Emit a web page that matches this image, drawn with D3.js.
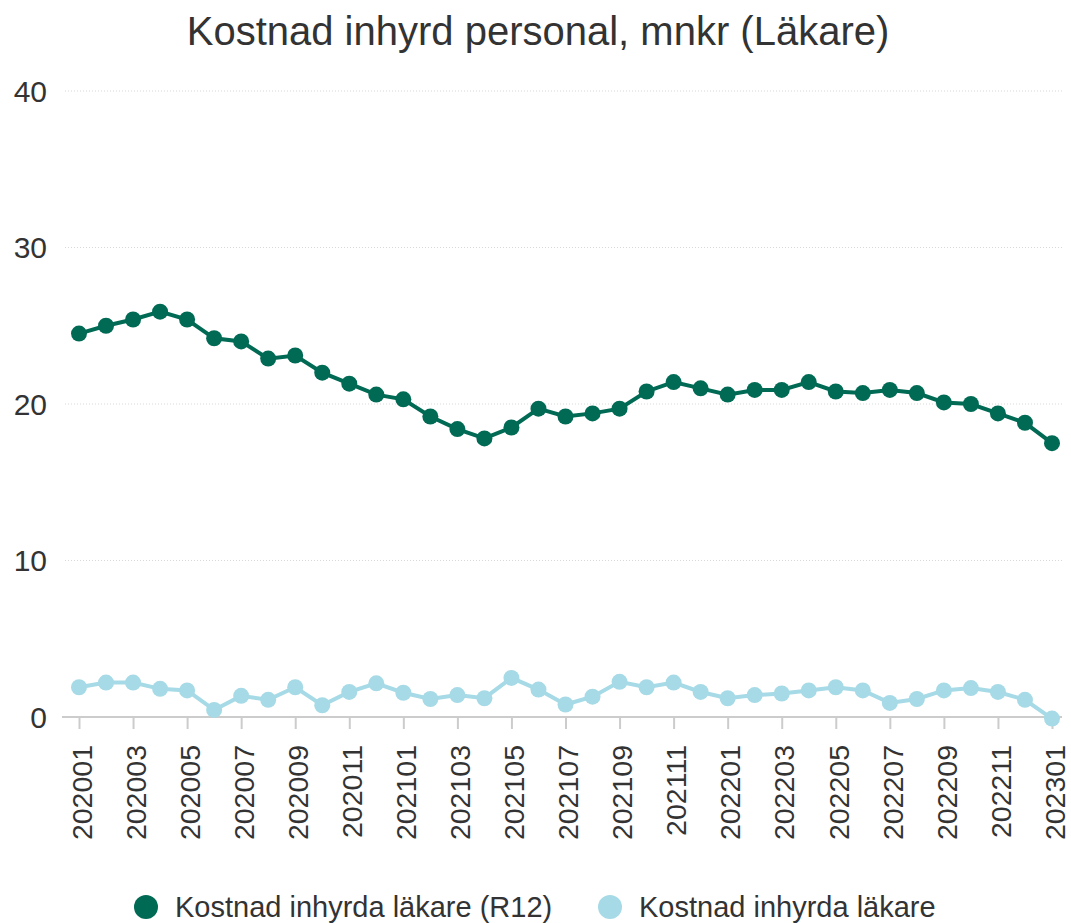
<!DOCTYPE html>
<html>
<head>
<meta charset="utf-8">
<script src="https://cdn.jsdelivr.net/npm/d3@7"></script>
<style>
  body { margin: 0; background: #fff; }
  svg { display: block; font-family: "Liberation Sans", Arial, sans-serif; }
</style>
</head>
<body>
<svg id="chart" width="1071" height="923"></svg>
<script>
// months 202001 .. 202301
const months = [];
for (let yr = 2020; yr <= 2023; yr++) {
  for (let m = 1; m <= 12; m++) {
    const k = yr * 100 + m;
    if (k <= 202301) months.push(String(k));
  }
}

const r12 = [24.5, 25.0, 25.4, 25.9, 25.4, 24.2, 24.0, 22.9, 23.1, 22.0, 21.3, 20.6, 20.3,
  19.2, 18.4, 17.8, 18.5, 19.7, 19.2, 19.4, 19.7, 20.8, 21.4, 21.0, 20.6, 20.9, 20.9,
  21.4, 20.8, 20.7, 20.9, 20.7, 20.1, 20.0, 19.4, 18.8, 17.5];
const monthly = [1.9, 2.2, 2.2, 1.8, 1.7, 0.45, 1.35, 1.1, 1.9, 0.75, 1.6, 2.15, 1.55,
  1.15, 1.4, 1.2, 2.5, 1.75, 0.8, 1.3, 2.25, 1.9, 2.2, 1.6, 1.2, 1.4, 1.5,
  1.7, 1.9, 1.7, 0.9, 1.15, 1.7, 1.85, 1.6, 1.1, -0.1];
const yTicks = [0, 10, 20, 30, 40];

const series = [
  { name: "Kostnad inhyrda läkare (R12)", values: r12, color: "#006a55" },
  { name: "Kostnad inhyrda läkare", values: monthly, color: "#a6dae6" }
];

const svg = d3.select("#chart");
const mLeft = 65, mRight = 1062, mTop = 91, mBottom = 717;

const x = d3.scalePoint().domain(months).range([79, 1052]);
const y = d3.scaleLinear().domain([0, 40]).range([mBottom, mTop]);

// title
svg.append("text")
  .attr("x", 538).attr("y", 45)
  .attr("text-anchor", "middle")
  .attr("font-size", 40)
  .attr("fill", "#333")
  .text("Kostnad inhyrd personal, mnkr (Läkare)");

// grid
svg.append("g").selectAll("line")
  .data(yTicks.filter(d => d > 0))
  .join("line")
  .attr("x1", mLeft).attr("x2", mRight)
  .attr("y1", d => y(d)).attr("y2", d => y(d))
  .attr("stroke", "#d8d8d8")
  .attr("stroke-width", 1)
  .attr("stroke-dasharray", "1,2");

// y labels
svg.append("g").selectAll("text")
  .data(yTicks)
  .join("text")
  .attr("x", 47).attr("y", d => y(d))
  .attr("dy", "0.36em")
  .attr("text-anchor", "end")
  .attr("font-size", 30)
  .attr("fill", "#333")
  .text(d => d);

// x axis
const xAxis = d3.axisBottom(x)
  .tickValues(months.filter((d, i) => i % 2 === 0))
  .tickSize(12)
  .tickSizeOuter(0);

const gx = svg.append("g").attr("transform", `translate(0,${mBottom})`).call(xAxis);
gx.select(".domain").remove();
gx.insert("line", ":first-child")
  .attr("x1", mLeft - 3).attr("x2", mRight)
  .attr("stroke", "#cccccc").attr("stroke-width", 2);
gx.selectAll(".tick line").attr("stroke", "#cccccc").attr("stroke-width", 2);
gx.selectAll(".tick text")
  .attr("font-size", 28.5)
  .attr("fill", "#333")
  .attr("transform", "rotate(-90)")
  .attr("text-anchor", "end")
  .attr("x", -28).attr("y", 2)
  .attr("dy", "0.36em");

// lines and points
const line = d3.line()
  .x((d, i) => x(months[i]))
  .y(d => y(d));

series.slice().reverse().forEach(s => {
  const g = svg.append("g");
  g.append("path")
    .datum(s.values)
    .attr("d", line)
    .attr("fill", "none")
    .attr("stroke", s.color)
    .attr("stroke-width", 4);
  g.selectAll("circle")
    .data(s.values)
    .join("circle")
    .attr("cx", (d, i) => x(months[i]))
    .attr("cy", d => y(d))
    .attr("r", 8)
    .attr("fill", s.color);
});

// legend
const legendX = [146, 610];
const lg = svg.append("g").selectAll("g")
  .data(series)
  .join("g")
  .attr("transform", (d, i) => `translate(${legendX[i]},907)`);
lg.append("circle").attr("r", 12).attr("fill", d => d.color);
lg.append("text")
  .attr("x", 29).attr("dy", "0.36em")
  .attr("font-size", 29)
  .attr("fill", "#333")
  .text(d => d.name);
</script>
</body>
</html>
